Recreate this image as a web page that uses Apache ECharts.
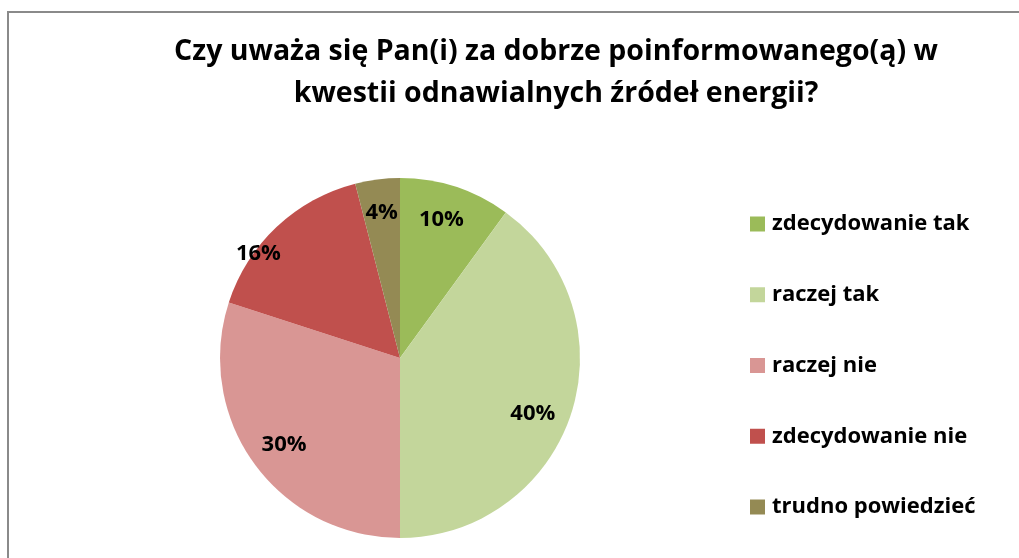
<!DOCTYPE html>
<html>
<head>
<meta charset="utf-8">
<script src="https://cdn.jsdelivr.net/npm/echarts@6/dist/echarts.min.js"></script>
<style>
  html, body { margin: 0; padding: 0; background: #fff; }
  #chart { width: 1019px; height: 558px; }
</style>
</head>
<body>
<div id="chart"></div>
<script>
// dane z wykresu
var categories = ['zdecydowanie tak', 'raczej tak', 'raczej nie', 'zdecydowanie nie', 'trudno powiedzieć']
var values = [10, 40, 30, 16, 4]
var colors = ['#9BBB59', '#C3D69B', '#D99694', '#C0504D', '#948A54']
var titleText = 'Czy uważa się Pan(i) za dobrze poinformowanego(ą) w\nkwestii odnawialnych źródeł energii?'

var font = '"Open Sans", Lato, sans-serif'
var pieData = categories.map(function (c, i) {
  return { name: c, value: values[i] }
})

var myChart = echarts.init(document.getElementById('chart'))
myChart.setOption({
  animation: false,
  color: colors,
  title: {
    text: titleText,
    left: 556,
    top: 31,
    textAlign: 'center',
    padding: 0,
    textStyle: {
      fontFamily: font,
      fontWeight: 'bold',
      fontSize: 28.5,
      lineHeight: 42,
      color: '#000'
    }
  },
  legend: {
    orient: 'vertical',
    left: 750,
    top: 213,
    padding: 0,
    icon: 'rect',
    itemWidth: 15,
    itemHeight: 15,
    itemGap: 48.75,
    data: categories,
    textStyle: {
      fontFamily: font,
      fontWeight: 'bold',
      fontSize: 22,
      lineHeight: 22,
      color: '#000',
      padding: [0, 0, 0, 2]
    }
  },
  graphic: [
    {
      type: 'rect',
      shape: { x: 8, y: 12, width: 1100, height: 700 },
      style: { fill: 'none', stroke: '#8a8a8a', lineWidth: 2 },
      silent: true
    }
  ],
  series: [
    {
      // wycinki
      type: 'pie',
      center: [400, 358],
      radius: [0, 180],
      startAngle: 90,
      clockwise: true,
      label: { show: false },
      labelLine: { show: false },
      itemStyle: { borderWidth: 0 },
      emphasis: { disabled: true },
      data: pieData
    },
    {
      // etykiety procentowe
      type: 'pie',
      center: [400, 358],
      radius: [108, 180],
      startAngle: 90,
      clockwise: true,
      silent: true,
      legendHoverLink: false,
      itemStyle: { color: 'rgba(0,0,0,0)' },
      label: {
        show: true,
        position: 'inside',
        formatter: '{d}%',
        fontFamily: font,
        fontWeight: 'bold',
        fontSize: 22,
        color: '#000'
      },
      labelLayout: function (params) {
        // przesunięcia jak w oryginale (Excel "best fit")
        if (params.dataIndex === 0) return { dx: -4, dy: 2 }
        if (params.dataIndex === 1) return { dx: -7, dy: 10 }
        if (params.dataIndex === 2) return { dx: 3, dy: 0 }
        if (params.dataIndex === 3) return { dx: -41, dy: 3 }
        return { dx: 0, dy: 1 }
      },
      labelLine: { show: false },
      data: pieData.map(function (d) {
        return { name: d.name + ' ', value: d.value }
      })
    }
  ]
})
</script>
</body>
</html>
